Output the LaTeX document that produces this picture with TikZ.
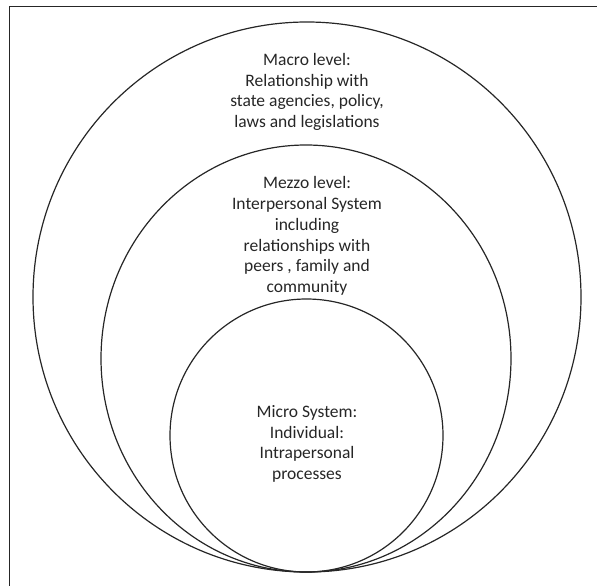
\documentclass[tikz,border=0pt]{standalone}
\usepackage{fontspec}
\setmainfont{Carlito}
\usepackage{tikz}
\usetikzlibrary{shapes.geometric, positioning}

\begin{document}
\begin{tikzpicture}[
    x=1pt, y=-1pt,
    level/.style={ellipse, draw=black!85, line width=1.2pt, inner sep=0pt},
    label/.style={align=center, font=\fontsize{17.5}{20.7}\selectfont, text=black!85}
]
\useasboundingbox (0,0) rectangle (597,586);

% frame (only top and left edge fall inside the page)
\draw[black!85, line width=1.2pt] (9.3,586) -- (9.3,6.3) -- (597,6.3);

% Macro level
\node[level, minimum width=548pt, minimum height=550pt] (macro) at (307,297) {};
\node[label] (macrotxt) at (307,92) {Macro level:\\Relationship with\\state agencies, policy,\\laws and legislations};

% Mezzo level
\node[level, minimum width=410pt, minimum height=427pt] (mezzo) at (306,358.5) {};
\node[label] (mezzotxt) at (307,236) {Mezzo level:\\Interpersonal System\\including\\relationships with\\peers , family and\\community};

% Micro system
\node[level, minimum width=273pt, minimum height=273pt] (micro) at (306.5,435.5) {};
\node[label] (microtxt) at (307,444) {Micro System:\\Individual:\\Intrapersonal\\processes};

\end{tikzpicture}
\end{document}
